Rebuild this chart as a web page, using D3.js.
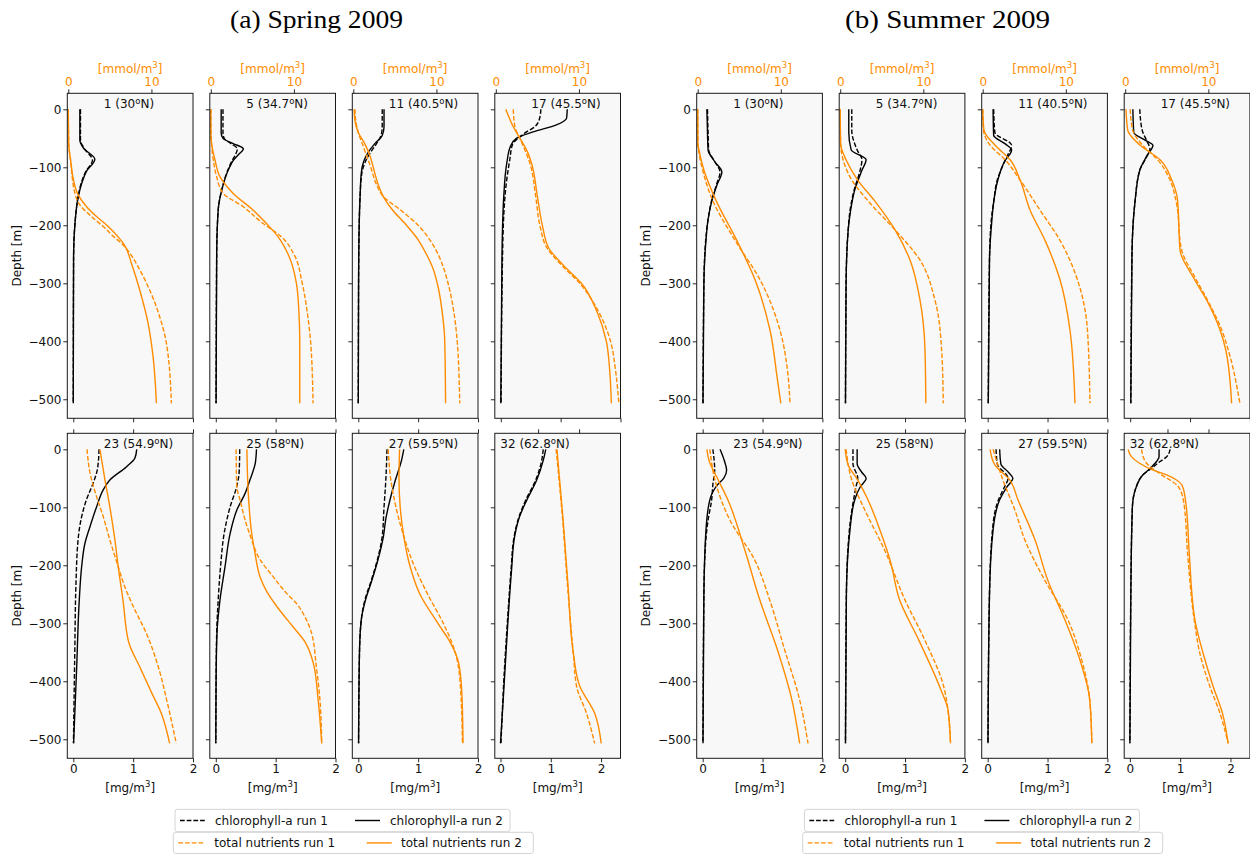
<!DOCTYPE html>
<html>
<head>
<meta charset="utf-8">
<script src="https://cdn.jsdelivr.net/npm/d3@7"></script>
<style>
  body { margin: 0; background: #fff; }
  svg { display: block; }
</style>
</head>
<body>
<svg id="chart" width="1250" height="854"></svg>
<script>
// Vertical profiles: [depth (m), value]; chlorophyll-a in mg/m3, total nutrients in mmol/m3.

// ---- Spring 2009 ----
const sp01Chl1 = [[0,0.12],[-53,0.12],[-67,0.18],[-88,0.32],[-107,0.21],[-128,0.13],[-151,0.08],[-197,0.028],[-254,0.005],[-507,0]];
const sp01Chl2 = [[0,0.11],[-53,0.11],[-67,0.17],[-86,0.36],[-107,0.22],[-128,0.14],[-151,0.083],[-197,0.028],[-254,0.005],[-507,0]];
const sp01Nut1 = [[0,0],[-60,0.05],[-90,0.3],[-120,0.5],[-139,0.7],[-165,1.4],[-185,2.8],[-202,4.2],[-220,5.5],[-231,6.4],[-248,7.4],[-277,8.6],[-312,9.8],[-358,11.0],[-403,11.8],[-507,12.4]];
const sp01Nut2 = [[0,0],[-60,0.05],[-90,0.3],[-120,0.6],[-148,1.2],[-168,2.2],[-185,3.4],[-202,4.8],[-220,6.0],[-235,6.8],[-266,7.6],[-312,8.6],[-369,9.6],[-427,10.2],[-507,10.6]];

const sp05Chl1 = [[0,0.12],[-41,0.12],[-50,0.14],[-59,0.25],[-68,0.36],[-78,0.33],[-87,0.28],[-100,0.22],[-139,0.1],[-174,0.04],[-250,0.015],[-507,0.005]];
const sp05Chl2 = [[0,0.09],[-41,0.09],[-50,0.12],[-59,0.29],[-68,0.46],[-78,0.38],[-87,0.3],[-100,0.23],[-139,0.1],[-174,0.04],[-250,0.015],[-507,0.005]];
const sp05Nut1 = [[0,0],[-45,0.02],[-59,0.08],[-87,0.3],[-116,0.7],[-145,1.5],[-168,3.9],[-197,6.3],[-211,7.7],[-220,8.5],[-250,10.0],[-300,11.0],[-350,11.6],[-400,12.0],[-507,12.3]];
const sp05Nut2 = [[0,0],[-45,0.02],[-59,0.1],[-87,0.5],[-116,1.1],[-145,2.7],[-174,5.1],[-197,6.7],[-220,8.1],[-250,9.3],[-300,10.3],[-350,10.6],[-400,10.7],[-507,10.7]];

const sp11Chl1 = [[0,0.4],[-30,0.4],[-45,0.38],[-60,0.3],[-75,0.2],[-90,0.12],[-110,0.06],[-150,0.03],[-200,0.015],[-300,0.005],[-507,0]];
const sp11Chl2 = [[0,0.43],[-30,0.43],[-45,0.4],[-60,0.27],[-75,0.16],[-90,0.09],[-110,0.05],[-150,0.03],[-200,0.015],[-300,0.005],[-507,0]];
const sp11Nut1 = [[0,0.2],[-20,0.3],[-40,0.6],[-60,1.1],[-80,1.6],[-100,2.1],[-130,2.8],[-150,3.6],[-175,5.8],[-200,7.8],[-225,9.2],[-250,10.2],[-275,10.9],[-300,11.4],[-350,12.1],[-400,12.5],[-507,12.8]];
const sp11Nut2 = [[0,0.1],[-20,0.2],[-40,0.6],[-60,1.4],[-80,2.0],[-100,2.4],[-130,3.0],[-150,3.6],[-175,4.8],[-200,6.4],[-225,7.8],[-250,8.8],[-275,9.6],[-300,10.1],[-350,10.7],[-400,11.0],[-507,11.1]];

const sp17Chl1 = [[0,0.67],[-15,0.65],[-30,0.57],[-39,0.43],[-50,0.29],[-59,0.2],[-87,0.15],[-150,0.07],[-250,0.03],[-507,0.005]];
const sp17Chl2 = [[0,1.11],[-15,1.1],[-27,0.93],[-39,0.54],[-50,0.26],[-64,0.16],[-93,0.1],[-150,0.05],[-250,0.02],[-507,0]];
const sp17Nut1 = [[0,2.1],[-30,2.3],[-50,2.9],[-70,3.5],[-93,4.1],[-150,4.8],[-200,5.3],[-240,6.2],[-270,8.0],[-300,10.1],[-350,12.4],[-400,13.8],[-450,14.4],[-507,14.8]];
const sp17Nut2 = [[0,1.2],[-30,2.1],[-50,2.9],[-70,3.7],[-93,4.3],[-150,5.0],[-200,5.6],[-240,6.4],[-270,8.2],[-300,10.3],[-350,12.2],[-400,13.3],[-450,13.7],[-507,13.9]];

const sp23Chl1 = [[0,0.43],[-20,0.42],[-36,0.4],[-64,0.31],[-87,0.22],[-116,0.14],[-156,0.08],[-231,0.045],[-350,0.025],[-507,0.003]];
const sp23Chl2 = [[0,1.06],[-15,1.03],[-30,0.89],[-53,0.61],[-70,0.5],[-99,0.39],[-133,0.28],[-162,0.195],[-202,0.14],[-260,0.1],[-375,0.057],[-507,0.005]];
const sp23Nut1 = [[0,2.3],[-41,2.8],[-82,3.9],[-116,5.0],[-156,6.1],[-202,7.5],[-237,8.6],[-277,10.3],[-317,12.2],[-375,14.2],[-432,15.6],[-507,17.2]];
const sp23Nut2 = [[0,4.45],[-53,5.3],[-99,6.1],[-156,6.95],[-202,7.5],[-260,8.3],[-334,9.3],[-375,11.1],[-420,13.1],[-455,14.7],[-507,16.1]];

const sp25Chl1 = [[0,0.4],[-40,0.39],[-64,0.35],[-99,0.24],[-145,0.14],[-202,0.08],[-260,0.04],[-317,0.015],[-400,0.005],[-507,0]];
const sp25Chl2 = [[0,0.68],[-24,0.66],[-53,0.57],[-76,0.49],[-105,0.35],[-145,0.24],[-202,0.155],[-260,0.07],[-317,0.02],[-400,0.005],[-507,0]];
const sp25Nut1 = [[0,3.4],[-64,3.5],[-87,4.05],[-122,4.9],[-156,6.0],[-185,7.1],[-220,9.6],[-248,11.8],[-266,13.5],[-289,14.9],[-317,16.0],[-375,16.8],[-432,17.4],[-507,17.7]];
const sp25Nut2 = [[0,5.2],[-70,5.4],[-145,6.0],[-179,6.55],[-220,7.4],[-245,8.5],[-271,10.2],[-306,12.9],[-332,14.9],[-369,16.3],[-432,17.1],[-507,17.7]];

const sp27Chl1 = [[0,0.48],[-53,0.46],[-100,0.43],[-150,0.4],[-190,0.32],[-225,0.22],[-260,0.11],[-294,0.05],[-350,0.02],[-507,0.005]];
const sp27Chl2 = [[0,0.76],[-20,0.72],[-53,0.62],[-87,0.53],[-120,0.46],[-150,0.42],[-190,0.33],[-225,0.23],[-260,0.12],[-294,0.05],[-350,0.02],[-507,0.005]];
const sp27Nut1 = [[0,5.0],[-50,5.4],[-100,6.3],[-150,7.6],[-200,9.3],[-250,11.6],[-300,14.2],[-350,16.2],[-400,17.0],[-507,17.4]];
const sp27Nut2 = [[0,6.9],[-50,6.8],[-100,7.0],[-150,7.6],[-200,8.6],[-250,10.3],[-300,13.3],[-330,15.2],[-370,16.8],[-420,17.3],[-507,17.5]];

const sp32Chl1 = [[0,0.85],[-19,0.82],[-53,0.7],[-88,0.5],[-116,0.37],[-151,0.27],[-208,0.21],[-294,0.14],[-409,0.06],[-507,0.01]];
const sp32Chl2 = [[0,0.9],[-19,0.85],[-53,0.72],[-88,0.52],[-116,0.38],[-151,0.28],[-208,0.22],[-294,0.15],[-409,0.07],[-507,0]];
const sp32Nut1 = [[0,12.2],[-122,13.0],[-237,13.6],[-352,14.3],[-409,14.7],[-455,15.9],[-507,16.9]];
const sp32Nut2 = [[0,12.3],[-122,13.05],[-237,13.66],[-352,14.3],[-409,15.1],[-455,16.9],[-507,17.7]];

// ---- Summer 2009 ----
const su01Chl1 = [[0,0.08],[-40,0.09],[-70,0.1],[-90,0.2],[-108,0.29],[-130,0.23],[-157,0.15],[-190,0.09],[-226,0.05],[-300,0.02],[-507,0.005]];
const su01Chl2 = [[0,0.07],[-40,0.08],[-70,0.09],[-90,0.2],[-108,0.32],[-130,0.24],[-157,0.155],[-190,0.09],[-226,0.055],[-300,0.02],[-507,0.005]];
const su01Nut1 = [[0,0],[-60,0.02],[-70,0.1],[-105,0.6],[-157,1.8],[-226,4.5],[-294,7.5],[-381,9.9],[-450,10.8],[-507,11.1]];
const su01Nut2 = [[0,0],[-60,0.02],[-70,0.15],[-105,0.75],[-157,2.2],[-226,4.7],[-294,6.9],[-381,8.7],[-467,9.6],[-507,10.0]];

const su05Chl1 = [[0,0.11],[-36,0.11],[-70,0.2],[-87,0.28],[-105,0.25],[-139,0.15],[-175,0.08],[-208,0.05],[-300,0.015],[-507,0.005]];
const su05Chl2 = [[0,0.06],[-40,0.06],[-70,0.1],[-87,0.35],[-105,0.28],[-139,0.16],[-175,0.09],[-208,0.05],[-300,0.015],[-507,0.005]];
const su05Nut1 = [[0,0],[-60,0.05],[-87,0.35],[-122,1.4],[-157,3.3],[-208,6.6],[-260,9.6],[-329,11.4],[-415,12.2],[-507,12.4]];
const su05Nut2 = [[0,0],[-60,0.05],[-87,0.7],[-122,2.1],[-157,4.1],[-208,6.6],[-260,8.4],[-329,9.6],[-415,10.2],[-507,10.3]];

const su11Chl1 = [[0,0.1],[-40,0.12],[-62,0.4],[-80,0.33],[-100,0.24],[-122,0.16],[-160,0.1],[-191,0.06],[-260,0.03],[-507,0.01]];
const su11Chl2 = [[0,0.09],[-45,0.1],[-60,0.3],[-70,0.4],[-90,0.28],[-122,0.17],[-160,0.1],[-191,0.07],[-260,0.03],[-507,0.01]];
const su11Nut1 = [[0,0],[-36,0.1],[-62,0.9],[-87,2.7],[-122,4.5],[-174,6.9],[-226,9.3],[-294,11.4],[-381,12.6],[-507,12.9]];
const su11Nut2 = [[0,0],[-36,0.15],[-62,1.5],[-87,3.3],[-122,4.5],[-174,5.7],[-226,7.5],[-294,9.3],[-381,10.5],[-507,11.1]];

const su17Chl1 = [[0,0.16],[-36,0.2],[-55,0.28],[-68,0.33],[-85,0.26],[-105,0.16],[-160,0.08],[-250,0.03],[-507,0.01]];
const su17Chl2 = [[0,0.045],[-40,0.06],[-53,0.25],[-62,0.38],[-80,0.28],[-105,0.16],[-160,0.08],[-250,0.03],[-507,0.01]];
const su17Nut1 = [[0,0.6],[-36,0.9],[-62,2.1],[-87,3.9],[-122,5.4],[-157,6.1],[-243,6.8],[-290,8.4],[-329,9.9],[-380,11.6],[-415,12.4],[-507,13.8]];
const su17Nut2 = [[0,0.1],[-36,0.3],[-62,1.8],[-87,4.2],[-122,5.6],[-157,6.3],[-243,6.6],[-290,8.2],[-329,9.8],[-380,11.4],[-415,12.1],[-507,12.8]];

const su23Chl1 = [[0,0.17],[-36,0.2],[-61,0.17],[-87,0.15],[-122,0.09],[-160,0.05],[-250,0.02],[-507,0.005]];
const su23Chl2 = [[0,0.29],[-19,0.36],[-36,0.4],[-50,0.35],[-61,0.25],[-87,0.12],[-139,0.055],[-250,0.02],[-507,0.005]];
const su23Nut1 = [[0,1.2],[-53,2.05],[-122,4.55],[-191,8.7],[-260,11.2],[-346,13.7],[-432,16.2],[-507,17.6]];
const su23Nut2 = [[0,0.7],[-19,1.05],[-53,2.6],[-87,4.2],[-174,7.05],[-260,9.55],[-346,12.5],[-432,14.9],[-507,16.2]];

const su25Chl1 = [[0,0.13],[-25,0.13],[-50,0.21],[-65,0.18],[-87,0.14],[-139,0.07],[-250,0.02],[-507,0.005]];
const su25Chl2 = [[0,0.2],[-25,0.2],[-40,0.28],[-50,0.35],[-65,0.25],[-87,0.16],[-139,0.08],[-250,0.02],[-507,0.005]];
const su25Nut1 = [[0,0.15],[-53,1.1],[-105,3.3],[-174,6.6],[-260,10.0],[-329,13.3],[-415,16.6],[-507,17.6]];
const su25Nut2 = [[0,0],[-27,0.5],[-53,2.1],[-87,3.8],[-139,5.8],[-191,7.5],[-260,9.1],[-329,12.3],[-415,16.0],[-450,17.2],[-507,17.6]];

const su27Chl1 = [[0,0.14],[-25,0.16],[-50,0.34],[-65,0.28],[-87,0.18],[-139,0.08],[-250,0.03],[-507,0.005]];
const su27Chl2 = [[0,0.2],[-25,0.22],[-40,0.35],[-50,0.42],[-65,0.32],[-87,0.2],[-139,0.09],[-250,0.03],[-507,0.005]];
const su27Nut1 = [[0,0.9],[-53,2.55],[-105,4.55],[-156,6.2],[-226,9.55],[-294,13.4],[-363,15.7],[-432,17.05],[-507,17.4]];
const su27Nut2 = [[0,0.4],[-27,1.2],[-53,3.7],[-87,5.05],[-156,7.9],[-226,10.05],[-294,12.9],[-363,15.4],[-432,17.05],[-507,17.4]];

const su32Chl1 = [[0,0.8],[-13,0.73],[-21,0.6],[-33,0.43],[-44,0.26],[-64,0.13],[-99,0.05],[-237,0.02],[-507,0]];
const su32Chl2 = [[0,0.58],[-13,0.58],[-21,0.53],[-33,0.4],[-44,0.26],[-64,0.13],[-99,0.05],[-237,0.02],[-507,0]];
const su32Nut1 = [[0,6.84],[-13,7.04],[-24,7.45],[-36,8.46],[-44,9.28],[-53,10.3],[-64,11.3],[-93,12.0],[-179,12.45],[-294,13.26],[-352,13.95],[-409,15.17],[-455,16.4],[-507,17.4]];
const su32Nut2 = [[0,5.2],[-13,5.62],[-24,6.6],[-36,8.26],[-44,9.9],[-53,11.1],[-64,11.84],[-93,12.24],[-179,12.65],[-294,13.34],[-352,14.35],[-409,15.57],[-455,16.7],[-507,17.4]];

// Stations, titles, ticks, legend entries
const stationIds = [1, 5, 11, 17, 23, 25, 27, 32];
const stationLats = ["30", "34.7", "40.5", "45.5", "54.9", "58", "59.5", "62.8"];
const seasonTitles = ["(a) Spring 2009", "(b) Summer 2009"];
const depthTicks = [0, -100, -200, -300, -400, -500];
const chlTicks = [0, 1, 2];
const nutTicks = [0, 10];
const lowerNutTicks = [0, 10, 20];
const lowerNutTicksLast = [10, 15];
const legendChl = ["chlorophyll-a run 1", "chlorophyll-a run 2"];
const legendNut = ["total nutrients run 1", "total nutrients run 2"];

// Per-station curve sets: [chl run 1, chl run 2, nutrients run 1, nutrients run 2]
const springProfiles = [
  [sp01Chl1, sp01Chl2, sp01Nut1, sp01Nut2],
  [sp05Chl1, sp05Chl2, sp05Nut1, sp05Nut2],
  [sp11Chl1, sp11Chl2, sp11Nut1, sp11Nut2],
  [sp17Chl1, sp17Chl2, sp17Nut1, sp17Nut2],
  [sp23Chl1, sp23Chl2, sp23Nut1, sp23Nut2],
  [sp25Chl1, sp25Chl2, sp25Nut1, sp25Nut2],
  [sp27Chl1, sp27Chl2, sp27Nut1, sp27Nut2],
  [sp32Chl1, sp32Chl2, sp32Nut1, sp32Nut2]
];
const summerProfiles = [
  [su01Chl1, su01Chl2, su01Nut1, su01Nut2],
  [su05Chl1, su05Chl2, su05Nut1, su05Nut2],
  [su11Chl1, su11Chl2, su11Nut1, su11Nut2],
  [su17Chl1, su17Chl2, su17Nut1, su17Nut2],
  [su23Chl1, su23Chl2, su23Nut1, su23Nut2],
  [su25Chl1, su25Chl2, su25Nut1, su25Nut2],
  [su27Chl1, su27Chl2, su27Nut1, su27Nut2],
  [su32Chl1, su32Chl2, su32Nut1, su32Nut2]
];
const seasons = [springProfiles, summerProfiles];

// ---- layout ----
const FONT = "'DejaVu Sans', sans-serif";
const ORANGE = "#ff8c00";
const BLACK = "#000";
const groupX = [67.3, 696.7];
const titleX = [316.5, 947.5];
const colStep = 142.5, pw = 125.7, ph = 325;
const rowY = [93.3, 433.3];
const depthDomain = [-532.8, 27.6];
const TICK = 4;
const DASH = "4.7,2";
const LW = 1.4;

const svg = d3.select("#chart");
svg.append("rect").attr("width", 1250).attr("height", 854).attr("fill", "#fff");

function withSup(textSel, before, sup, after) {
  textSel.append("tspan").text(before);
  textSel.append("tspan").attr("dy", -4.6).attr("font-size", 8.5).text(sup);
  textSel.append("tspan").attr("dy", 4.6).text(after);
}

function styleAxis(g) {
  g.attr("font-size", 12).attr("font-family", FONT);
  g.select(".domain").remove();
  g.selectAll(".tick line").attr("stroke", "#111").attr("stroke-width", 0.9);
  g.selectAll(".tick text").attr("fill", "#111");
}

seasons.forEach((profiles, g) => {
  const gx = groupX[g];

  svg.append("text")
    .attr("x", titleX[g]).attr("y", 28)
    .attr("text-anchor", "middle")
    .attr("font-family", "'Liberation Serif', serif")
    .attr("font-size", 24.5)
    .attr("textLength", g === 0 ? 173 : 205)
    .attr("lengthAdjust", "spacingAndGlyphs")
    .attr("fill", "#000")
    .text(seasonTitles[g]);

  profiles.forEach((curves, i) => {
    const row = Math.floor(i / 4), col = i % 4;
    const x0 = gx + col * colStep, y0 = rowY[row];
    const lowerLast = row === 1 && col === 3;

    const xChl = d3.scaleLinear()
      .domain(lowerLast ? [-0.113, 2.386] : [-0.1, 2.0])
      .range([x0, x0 + pw]);
    const xNut = d3.scaleLinear()
      .domain(row === 0 ? [-0.12, 15.0] : (col === 3 ? [4.72, 20.05] : [-1, 20]))
      .range([x0, x0 + pw]);
    const y = d3.scaleLinear().domain(depthDomain).range([y0 + ph, y0]);

    const panel = svg.append("g");
    const clipId = `clip-${g}-${i}`;
    panel.append("clipPath").attr("id", clipId)
      .append("rect").attr("x", x0).attr("y", y0).attr("width", pw).attr("height", ph);

    panel.append("rect")
      .attr("x", x0).attr("y", y0).attr("width", pw).attr("height", ph)
      .attr("fill", "#f8f8f8");

    // station label
    const lbl = panel.append("text")
      .attr("x", lowerLast ? x0 + 5.5 : x0 + 36.5)
      .attr("y", y(0) - 1.2)
      .attr("font-family", FONT).attr("font-size", 12).attr("fill", "#111");
    withSup(lbl, `${stationIds[i]} (${stationLats[i]}`, "o", "N)");

    const chlLine = d3.line()
      .x(d => xChl(d[1])).y(d => y(d[0]))
      .curve(d3.curveMonotoneY);
    const nutLine = d3.line()
      .x(d => xNut(d[1])).y(d => y(d[0]))
      .curve(d3.curveMonotoneY);

    const plot = panel.append("g").attr("clip-path", `url(#${clipId})`);
    const styles = [
      { gen: chlLine, color: BLACK, dash: DASH },
      { gen: chlLine, color: BLACK, dash: null },
      { gen: nutLine, color: ORANGE, dash: DASH },
      { gen: nutLine, color: ORANGE, dash: null }
    ];
    curves.forEach((c, k) => {
      plot.append("path")
        .attr("d", styles[k].gen(c))
        .attr("fill", "none")
        .attr("stroke", styles[k].color)
        .attr("stroke-width", LW)
        .attr("stroke-dasharray", styles[k].dash);
    });

    panel.append("rect")
      .attr("x", x0).attr("y", y0).attr("width", pw).attr("height", ph)
      .attr("fill", "none").attr("stroke", "#1a1a1a").attr("stroke-width", 1);

    // depth axis
    const ay = panel.append("g").attr("transform", `translate(${x0},0)`)
      .call(d3.axisLeft(y).tickValues(depthTicks).tickSize(TICK).tickPadding(1.8)
        .tickFormat(col === 0 ? d3.format("d") : () => ""));
    styleAxis(ay);

    // chlorophyll axis (bottom)
    const ab = panel.append("g").attr("transform", `translate(0,${y0 + ph})`)
      .call(d3.axisBottom(xChl).tickValues(chlTicks).tickSize(TICK).tickPadding(2.5)
        .tickFormat(row === 1 ? d3.format("d") : () => ""));
    styleAxis(ab);

    // nutrient axis (top)
    const topTicks = row === 0 ? nutTicks : (col === 3 ? lowerNutTicksLast : lowerNutTicks);
    const at = panel.append("g").attr("transform", `translate(0,${y0})`)
      .call(d3.axisTop(xNut).tickValues(topTicks).tickSize(TICK).tickPadding(3.3)
        .tickFormat(row === 0 ? d3.format("d") : () => ""));
    styleAxis(at);
    at.selectAll(".tick text").attr("fill", ORANGE);

    const cx = x0 + pw / 2;
    if (row === 0) {
      const t = panel.append("text").attr("x", cx).attr("y", 73)
        .attr("text-anchor", "middle").attr("font-family", FONT)
        .attr("font-size", 12).attr("fill", ORANGE);
      withSup(t, "[mmol/m", "3", "]");
    } else {
      const t = panel.append("text").attr("x", cx).attr("y", 792)
        .attr("text-anchor", "middle").attr("font-family", FONT)
        .attr("font-size", 12).attr("fill", "#111");
      withSup(t, "[mg/m", "3", "]");
    }
    if (col === 0) {
      panel.append("text")
        .attr("transform", `translate(${x0 - 51},${y0 + ph / 2}) rotate(-90)`)
        .attr("text-anchor", "middle").attr("dy", "0.35em")
        .attr("font-family", FONT).attr("font-size", 12).attr("fill", "#111")
        .text("Depth [m]");
    }
  });

  // legends: chlorophyll box above, nutrients box below
  const shift = gx - groupX[0];
  const boxes = [
    { left: 175, top: 809.3, w: 335, h: 22.4, labels: legendChl, color: BLACK,
      handles: [5, 180], texts: [40, 215] },
    { left: 173.3, top: 832.3, w: 360, h: 21.2, labels: legendNut, color: ORANGE,
      handles: [5, 193.4], texts: [41, 227.7] }
  ];
  boxes.forEach(b => {
    const lg = svg.append("g").attr("transform", `translate(${b.left + shift},${b.top})`);
    lg.append("rect").attr("width", b.w).attr("height", b.h).attr("rx", 2.5)
      .attr("fill", "#fff").attr("fill-opacity", 0.8)
      .attr("stroke", "#d4d4d4").attr("stroke-width", 1);
    const cy = b.h / 2;
    b.labels.forEach((lab, k) => {
      lg.append("line")
        .attr("x1", b.handles[k]).attr("x2", b.handles[k] + 25)
        .attr("y1", cy).attr("y2", cy)
        .attr("stroke", b.color).attr("stroke-width", LW)
        .attr("stroke-dasharray", k === 0 ? DASH : null);
      lg.append("text")
        .attr("x", b.texts[k]).attr("y", cy + 4.3)
        .attr("font-family", FONT).attr("font-size", 12).attr("fill", "#111")
        .text(lab);
    });
  });
});
</script>
</body>
</html>
